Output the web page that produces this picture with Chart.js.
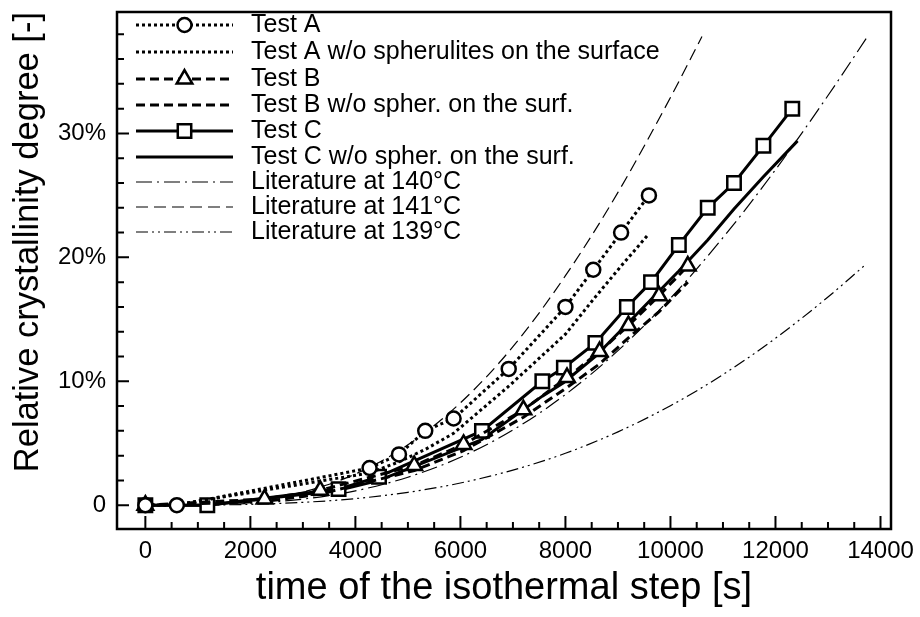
<!DOCTYPE html>
<html>
<head>
<meta charset="utf-8">
<title>Relative Kristallinität</title>
<script src="https://cdn.jsdelivr.net/npm/chart.js@4.4.1/dist/chart.umd.min.js"></script>
<style>
    body { margin: 0; background: #fff; }
    #wrap { width: 920px; height: 617px; }
</style>
</head>
<body>
<div id="wrap"><canvas id="kristallChart" width="920" height="617"></canvas></div>
<script>
// Messpunkte: Zeit im isothermen Schritt [s] und relative Kristallinität [%]
const testATime = [0, 600, 4270, 4830, 5330, 5870, 6920, 8000, 8530, 9060, 9590];
const testAVal = [0, 0, 3.0, 4.1, 6.0, 7.0, 11.0, 16.0, 19.0, 22.0, 25.0];
const testAWoVal = [0, 0.05, 2.6, 3.5, 4.5, 5.8, 9.6, 13.8, 16.6, 19.3, 21.9];

const testBTime = [0, 2270, 3330, 5120, 6060, 7200, 8030, 8650, 9200, 9780, 10330];
const testBVal = [0, 0.5, 1.2, 3.2, 4.9, 7.7, 10.3, 12.4, 14.5, 16.9, 19.3];
const testBWoVal = [0, 0.3, 0.9, 2.8, 4.4, 7.1, 9.5, 11.4, 13.5, 15.6, 18.0];

const testCTime = [0, 1180, 3680, 4450, 6410, 7560, 7970, 8570, 9170, 9630, 10160, 10710, 11210, 11770, 12320];
const testCVal = [0, 0, 1.3, 2.3, 6.0, 10.0, 11.1, 13.1, 16.0, 18.0, 21.0, 24.0, 26.0, 29.0, 32.0];
const testCWoTime = [0, 1180, 3680, 4450, 6410, 7560, 7970, 8570, 9170, 9630, 10160, 10710, 11210, 11770, 12420];
const testCWoVal = [0, 0, 1.2, 2.0, 5.3, 8.8, 9.9, 12.0, 14.6, 16.6, 18.9, 21.4, 23.9, 26.5, 29.4];

// Literaturkurven
const lit140Time = [0, 1000, 2000, 3000, 4000, 5000, 6000, 7000, 8000, 9000, 10000, 11000, 12000, 13000, 13750];
const lit140Val = [0, 0.02, 0.15, 0.49, 1.16, 2.26, 3.87, 6.07, 8.93, 12.47, 16.70, 21.59, 27.07, 33.06, 37.8];
const lit141Time = [0, 1000, 2000, 3000, 4000, 5000, 6000, 7000, 8000, 9000, 10000, 10600];
const lit141Val = [0, 0.04, 0.32, 1.07, 2.52, 4.87, 8.26, 12.79, 18.52, 25.24, 32.90, 37.82];
const lit139Time = [0, 1000, 2000, 3000, 4000, 5000, 6000, 7000, 8000, 9000, 10000, 11000, 12000, 13000, 13700];
const lit139Val = [0, 0.01, 0.07, 0.23, 0.53, 1.04, 1.79, 2.83, 4.19, 5.92, 8.03, 10.54, 13.47, 16.80, 19.36];

// Achsenbeschriftung
const xTickValues = [0, 2000, 4000, 6000, 8000, 10000, 12000, 14000];
const yTickValues = [0, 10, 20, 30];
const yTickLabels = ['0', '10%', '20%', '30%'];

const FONT = '"Liberation Sans", Arial, Helvetica, sans-serif';
Chart.defaults.font.family = FONT;
Chart.defaults.color = '#000';

function toPoints(xs, ys) {
    return xs.map((x, i) => ({ x: x, y: ys[i] }));
}

function kurve(label, xs, ys, style) {
    return Object.assign({
        label: label,
        data: toPoints(xs, ys),
        showLine: true,
        fill: false,
        borderColor: '#000',
        backgroundColor: '#fff',
        pointBorderColor: '#000',
        pointBackgroundColor: '#fff',
        pointRadius: 0,
        pointHoverRadius: 0,
        pointBorderWidth: 2.5,
        tension: 0
    }, style);
}

const datasets = [
    kurve('Test A', testATime, testAVal, { borderWidth: 3, borderDash: [3, 3], pointStyle: 'circle', pointRadius: 7 }),
    kurve('Test A w/o spherulites on the surface', testATime, testAWoVal, { borderWidth: 3, borderDash: [3, 3] }),
    kurve('Test B', testBTime, testBVal, { borderWidth: 3, borderDash: [9, 5], pointStyle: 'triangle', pointRadius: 9 }),
    kurve('Test B w/o spher. on the surf.', testBTime, testBWoVal, { borderWidth: 3, borderDash: [9, 5] }),
    kurve('Test C', testCTime, testCVal, { borderWidth: 3, pointStyle: 'rect', pointRadius: 9.5 }),
    kurve('Test C w/o spher. on the surf.', testCWoTime, testCWoVal, { borderWidth: 3 }),
    kurve('Literature at 140°C', lit140Time, lit140Val, { borderWidth: 1.2, borderDash: [16, 5, 2, 5], cubicInterpolationMode: 'monotone' }),
    kurve('Literature at 141°C', lit141Time, lit141Val, { borderWidth: 1.2, borderDash: [12, 6], cubicInterpolationMode: 'monotone' }),
    kurve('Literature at 139°C', lit139Time, lit139Val, { borderWidth: 1.2, borderDash: [12, 4, 2, 4, 2, 4], cubicInterpolationMode: 'monotone' })
];

// Rahmen und nach innen zeigende Striche an x- und y-Achse
const rahmenPlugin = {
    id: 'rahmen',
    afterDraw(chart) {
        const { ctx, chartArea: a, scales } = chart;
        ctx.save();
        ctx.strokeStyle = '#000';
        ctx.lineWidth = 2;
        ctx.beginPath();
        for (let t = 0; t <= 14000; t += 500) {
            const px = scales.x.getPixelForValue(t);
            const len = t % 2000 === 0 ? 13 : 7;
            ctx.moveTo(px, a.bottom);
            ctx.lineTo(px, a.bottom - len);
        }
        for (let v = 0; v <= 38; v += 2) {
            const py = scales.y.getPixelForValue(v);
            const len = v % 10 === 0 ? 12 : 7;
            ctx.moveTo(a.left, py);
            ctx.lineTo(a.left + len, py);
        }
        ctx.stroke();
        ctx.lineWidth = 2.5;
        ctx.strokeRect(a.left, a.top, a.right - a.left, a.bottom - a.top);
        ctx.restore();
    }
};

// Legende mit Linienstil und Marker, oben links im Diagramm
const legendeZeilen = [25, 52, 79, 105, 131, 157, 182, 207, 232];
const legendePlugin = {
    id: 'legende',
    afterDraw(chart) {
        const ctx = chart.ctx;
        const x0 = 136, x1 = 233, xText = 251;
        chart.data.datasets.forEach((ds, i) => {
            const y = legendeZeilen[i];
            ctx.save();
            ctx.strokeStyle = '#000';
            ctx.lineWidth = ds.borderWidth;
            ctx.setLineDash(ds.borderDash || []);
            ctx.beginPath();
            ctx.moveTo(x0, y);
            ctx.lineTo(x1, y);
            ctx.stroke();
            ctx.setLineDash([]);
            if (ds.pointRadius > 0) {
                ctx.fillStyle = '#fff';
                ctx.lineWidth = ds.pointBorderWidth;
                Chart.helpers.drawPoint(ctx, {
                    pointStyle: ds.pointStyle,
                    rotation: 0,
                    radius: ds.pointRadius,
                    borderWidth: ds.pointBorderWidth
                }, (x0 + x1) / 2, y);
            }
            ctx.fillStyle = '#000';
            ctx.font = '25px ' + FONT;
            ctx.textBaseline = 'middle';
            ctx.textAlign = 'left';
            ctx.fillText(ds.label, xText, y);
            ctx.restore();
        });
    }
};

// Randabstände der Achsen zurücksetzen, damit nur das Layout-Padding gilt
function keinPadding(s) {
    s.paddingTop = 0;
    s.paddingBottom = 0;
    s.paddingLeft = 0;
    s.paddingRight = 0;
}

const ctx = document.getElementById('kristallChart').getContext('2d');
new Chart(ctx, {
    type: 'scatter',
    data: { datasets: datasets },
    options: {
        responsive: false,
        animation: false,
        devicePixelRatio: 1,
        layout: { padding: { top: 7, right: 29, left: 0, bottom: 0 } },
        plugins: {
            legend: { display: false },
            tooltip: { enabled: false }
        },
        scales: {
            x: {
                type: 'linear',
                min: -540,
                max: 14200,
                afterBuildTicks: s => { s.ticks = xTickValues.map(v => ({ value: v })); },
                afterFit: s => { s.height = 88; keinPadding(s); },
                grid: { display: false, drawTicks: false },
                border: { display: false },
                ticks: { font: { size: 24 }, color: '#000', padding: 8, maxRotation: 0, callback: v => String(v) },
                title: {
                    display: true,
                    text: 'time of the isothermal step [s]',
                    font: { size: 38 },
                    color: '#000',
                    padding: { top: 0, bottom: 6 }
                }
            },
            y: {
                type: 'linear',
                min: -1.92,
                max: 39.8,
                afterBuildTicks: s => { s.ticks = yTickValues.map(v => ({ value: v })); },
                afterFit: s => { s.width = 117; keinPadding(s); },
                grid: { display: false, drawTicks: false },
                border: { display: false },
                ticks: {
                    font: { size: 24 },
                    color: '#000',
                    padding: 11,
                    callback: v => yTickLabels[yTickValues.indexOf(v)]
                },
                title: {
                    display: true,
                    text: 'Relative crystallinity degree [-]',
                    align: 'end',
                    font: { size: 34.5 },
                    color: '#000',
                    padding: { top: 8, bottom: 0 }
                }
            }
        }
    },
    plugins: [rahmenPlugin, legendePlugin]
});
</script>
</body>
</html>
